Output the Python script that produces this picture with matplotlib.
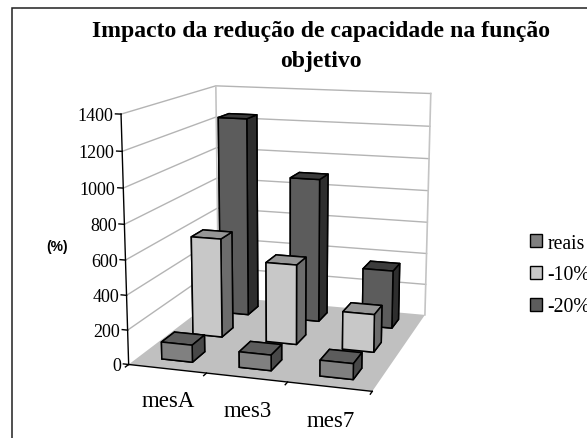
import numpy as np
import matplotlib
matplotlib.use('Agg')
import matplotlib.pyplot as plt
from matplotlib.patches import Patch, Rectangle
from mpl_toolkits.mplot3d import proj3d
from mpl_toolkits.mplot3d.art3d import Poly3DCollection

meses = ['mesA', 'mes3', 'mes7']
series = ['reais', '-10%', '-20%']
reais = [100, 90, 90]
menos10 = [600, 480, 225]
menos20 = [1245, 895, 360]
z_ticks = [0, 200, 400, 600, 800, 1000, 1200, 1400]

# front, top, side colour for each series
cores = {'reais': ('#808080', '#5c5c5c', '#484848'),
         '-10%': ('#c8c8c8', '#969696', '#6c6c6c'),
         '-20%': ('#5c5c5c', '#3c3c3c', '#2e2e2e')}

W, H = 587, 439
plt.rcParams['font.family'] = ['Liberation Serif', 'DejaVu Serif']

fig = plt.figure(figsize=(W/100, H/100), dpi=100)
ax = fig.add_subplot(projection='3d')
ax.computed_zorder = False
ax.view_init(elev=12.813, azim=-72.489)
ax.set_proj_type('persp', focal_length=0.5514)
ax.set_box_aspect((1, 1.0192, 1.0066))
ax.set_xticks([])
ax.set_yticks([])
ax.set_zticks([])
ax.set_axis_off()

# camera fit: 2D scale and centre in pixels
S, cx, cy = 2193.62, 286.16, 214.78
x0, x1 = ax.viewLim.intervalx
y0, y1 = ax.viewLim.intervaly
ax.set_position([(cx + S*x0)/W, (cy + S*y0)/H, S*(x1 - x0)/W, S*(y1 - y0)/H])

ZMAX = z_ticks[-1]

# floor
floor = Poly3DCollection([[(0, 0, 0), (3, 0, 0), (3, 3, 0), (0, 3, 0)]],
                         facecolor='#c0c0c0', edgecolor='none', zorder=1)
ax.add_collection3d(floor)

# walls
grid_c = '#b4b4b4'
for v in z_ticks[1:]:
    ax.plot([0, 0, 3], [0, 3, 3], [v, v, v], color=grid_c, lw=1, zorder=2)
ax.plot([0, 0], [3, 3], [0, ZMAX], color='#c4c4c4', lw=1.2, zorder=2)
ax.plot([3, 3], [3, 3], [0, ZMAX], color='#c4c4c4', lw=1.2, zorder=2)

# axes lines and ticks
ax.plot([0, 0], [0, 0], [0, ZMAX], color='black', lw=1, zorder=3)
ax.plot([0, 3], [0, 0], [0, 0], color='black', lw=1, zorder=3)
for v in z_ticks:
    ax.plot([-0.07, 0], [0, 0], [v, v], color='black', lw=1, zorder=3)
for i in range(4):
    ax.plot([i, i], [0, -0.09], [0, 0], color='black', lw=1, zorder=3)

# bars, back row first
w = 0.4
d = 0.4
xpos = np.arange(3) + 0.5 - w/2
for row, nome, vals in [(2, '-20%', menos20), (1, '-10%', menos10), (0, 'reais', reais)]:
    fr, tp, sd = cores[nome]
    faces = [tp, tp, fr, sd, sd, sd] * 3
    ax.bar3d(xpos, np.full(3, row + 0.5 - d/2), np.zeros(3), w, d, vals, color=faces,
             edgecolor='black', linewidth=1.1, shade=False, zorder=5 + (2 - row))

ax.set_xlim(0, 3)
ax.set_ylim(0, 3)
ax.set_zlim(0, ZMAX)


# axis labels go on as 2D text at the projected spot
def rotulo(x, y, z, s, **kw):
    px, py, _ = proj3d.proj_transform(x, y, z, ax.get_proj())
    ax.text2D(px, py, s, transform=ax.transData, zorder=20, **kw)


for v in z_ticks:
    rotulo(-0.1, 0, v - 10, str(v), ha='right', va='center', fontsize=13)
for i, m in enumerate(meses):
    rotulo(0.92 + 0.93*i, -0.95, 0, m, ha='center', va='center', fontsize=16.5)

fig.text(320.5/W, 1 - 31/H, 'Impacto da redução de capacidade na função', ha='center', va='center',
         fontsize=17.1, fontweight='bold')
fig.text(320.5/W, 1 - 61/H, 'objetivo', ha='center', va='center', fontsize=17.1, fontweight='bold')
fig.text(57/W, 1 - 247/H, '(%)', ha='center', va='center', fontsize=10, fontweight='bold',
         family='Liberation Sans')

handles = [Patch(facecolor=cores[s][0], edgecolor='black', linewidth=1) for s in series]
fig.legend(handles, series, loc='center left', bbox_to_anchor=(530/W, 1 - 276/H), frameon=False,
           fontsize=14.2, handlelength=0.6, handleheight=0.6, handletextpad=0.3,
           labelspacing=0.65, borderpad=0, borderaxespad=0)

fig.add_artist(Rectangle((11.5/W, -0.1), 1, 1 - 9/H + 0.1, transform=fig.transFigure,
                         facecolor='none', edgecolor='#202020', linewidth=1.1))

fig.savefig('out.png', dpi=100)
